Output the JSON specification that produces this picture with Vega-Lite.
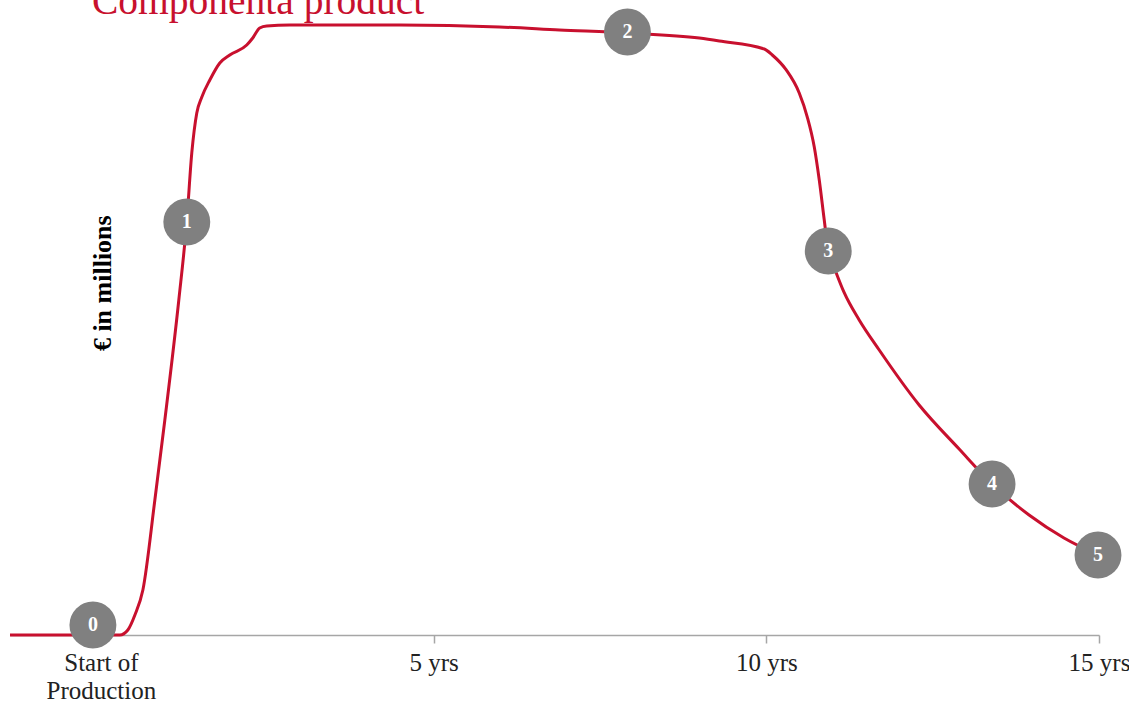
{
  "$schema": "https://vega.github.io/schema/vega-lite/v6.json",
  "width": 1089,
  "height": 635,
  "autosize": {"type": "none"},
  "padding": {"left": 10, "top": 0, "right": 30, "bottom": 72},
  "background": "white",
  "config": {"view": {"stroke": null}, "font": "Liberation Serif"},
  "datasets": {
    "curve": [
      {"yr": -1.366, "v": 0}, {"yr": -0.616, "v": 0}, {"yr": 0.21, "v": 0}, {"yr": 0.285, "v": 0},
      {"yr": 0.405, "v": 0.79}, {"yr": 0.511, "v": 3.15}, {"yr": 0.631, "v": 7.09}, {"yr": 0.811, "v": 21.26},
      {"yr": 0.961, "v": 33.86}, {"yr": 1.171, "v": 52.76}, {"yr": 1.291, "v": 65.2},
      {"yr": 1.366, "v": 75.91}, {"yr": 1.441, "v": 82.2}, {"yr": 1.517, "v": 84.72}, {"yr": 1.637, "v": 87.4},
      {"yr": 1.787, "v": 90.08}, {"yr": 1.937, "v": 91.34}, {"yr": 2.192, "v": 92.91}, {"yr": 2.282, "v": 94.02},
      {"yr": 2.387, "v": 95.59}, {"yr": 2.492, "v": 95.91}, {"yr": 2.838, "v": 96.06}, {"yr": 4.489, "v": 96.06},
      {"yr": 5.991, "v": 95.75}, {"yr": 6.892, "v": 95.28}, {"yr": 7.913, "v": 94.8}, {"yr": 8.994, "v": 94.0},
      {"yr": 9.294, "v": 93.54}, {"yr": 9.97, "v": 92.28}, {"yr": 10.09, "v": 91.34}, {"yr": 10.3, "v": 88.98},
      {"yr": 10.495, "v": 85.35}, {"yr": 10.616, "v": 81.57}, {"yr": 10.721, "v": 76.85}, {"yr": 10.796, "v": 71.65},
      {"yr": 10.871, "v": 65.35}, {"yr": 10.931, "v": 60.47}, {"yr": 11.051, "v": 57.01}, {"yr": 11.171, "v": 53.9},
      {"yr": 11.396, "v": 49.61}, {"yr": 11.697, "v": 44.88}, {"yr": 12.297, "v": 36.22}, {"yr": 12.898, "v": 29.29},
      {"yr": 13.393, "v": 23.78}, {"yr": 13.949, "v": 18.9}, {"yr": 14.474, "v": 15.28}, {"yr": 14.985, "v": 12.6}
    ],
    "markers": [
      {"yr": -0.12, "v": 1.57, "label": "0"},
      {"yr": 1.291, "v": 65.04, "label": "1"},
      {"yr": 7.913, "v": 94.96, "label": "2"},
      {"yr": 10.931, "v": 60.47, "label": "3"},
      {"yr": 13.393, "v": 23.78, "label": "4"},
      {"yr": 14.985, "v": 12.6, "label": "5"}
    ],
    "notes": [
      {"yr": -0.135, "v": 97.72, "text": "Componenta product", "kind": "title"},
      {"yr": 0.03, "v": 55.4, "text": "€ in millions", "kind": "ytitle"}
    ]
  },
  "layer": [
    {
      "data": {"name": "curve"},
      "mark": {"type": "line", "interpolate": "monotone", "color": "#c8102e", "strokeWidth": 3},
      "encoding": {
        "x": {
          "field": "yr", "type": "quantitative",
          "scale": {"domain": [-1.366, 15], "nice": false, "zero": false},
          "axis": {
            "values": [0, 5, 10, 15],
            "title": null,
            "grid": false,
            "domainColor": "#a6a6a6",
            "domainWidth": 1.5,
            "tickColor": "#a6a6a6",
            "tickWidth": 1.5,
            "tickSize": 8,
            "labelFont": "Liberation Serif",
            "labelFontSize": 25,
            "labelColor": "#222222",
            "labelPadding": 7,
            "labelLineHeight": 28,
            "labelFlush": false,
            "labelOverlap": false,
            "labelExpr": "datum.value == 0 ? ['Start of', 'Production'] : datum.value + ' yrs'"
          }
        },
        "y": {
          "field": "v", "type": "quantitative",
          "scale": {"domain": [0, 100], "nice": false},
          "axis": null
        }
      }
    },
    {
      "data": {"name": "markers"},
      "mark": {"type": "point", "filled": true, "size": 2200, "color": "#808080", "opacity": 1, "shape": "circle"},
      "encoding": {
        "x": {"field": "yr", "type": "quantitative"},
        "y": {"field": "v", "type": "quantitative"}
      }
    },
    {
      "data": {"name": "markers"},
      "mark": {"type": "text", "color": "white", "fontSize": 20, "fontWeight": "bold", "font": "Liberation Serif", "align": "center", "baseline": "middle"},
      "encoding": {
        "x": {"field": "yr", "type": "quantitative"},
        "y": {"field": "v", "type": "quantitative"},
        "text": {"field": "label"}
      }
    },
    {
      "data": {"name": "notes"},
      "transform": [{"filter": "datum.kind == 'title'"}],
      "mark": {"type": "text", "color": "#c8102e", "fontSize": 39.5, "font": "Liberation Serif", "align": "left", "baseline": "alphabetic"},
      "encoding": {
        "x": {"field": "yr", "type": "quantitative"},
        "y": {"field": "v", "type": "quantitative"},
        "text": {"field": "text"}
      }
    },
    {
      "data": {"name": "notes"},
      "transform": [{"filter": "datum.kind == 'ytitle'"}],
      "mark": {"type": "text", "color": "black", "fontSize": 26, "fontWeight": "bold", "font": "Liberation Serif", "align": "center", "baseline": "middle", "angle": 270},
      "encoding": {
        "x": {"field": "yr", "type": "quantitative"},
        "y": {"field": "v", "type": "quantitative"},
        "text": {"field": "text"}
      }
    }
  ]
}
